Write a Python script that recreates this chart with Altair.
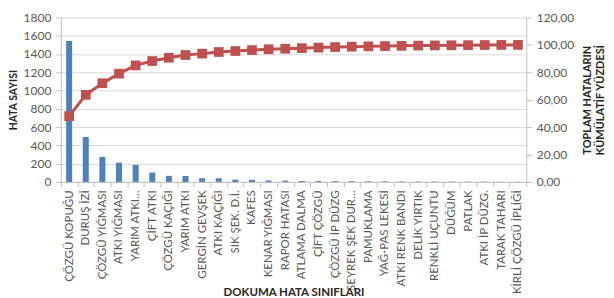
import altair as alt
import pandas as pd

categories = [
    "ÇÖZGÜ KOPUĞU", "DURUŞ İZİ", "ÇÖZGÜ YIĞMASI", "ATKI YIĞMASI", "YARIM ATKI…",
    "ÇİFT ATKI", "ÇÖZGÜ KAÇIĞI", "YARIM ATKI", "GERGİN GEVŞEK", "ATKI KAÇIĞI",
    "SIK ŞEK. D.İ.", "KAFES", "KENAR YIĞMASI", "RAPOR HATASI", "ATLAMA DALMA",
    "ÇİFT ÇÖZGÜ", "ÇÖZGÜ İP DÜZG", "SEYREK ŞEK DUR…", "PAMUKLAMA", "YAĞ-PAS LEKESİ",
    "ATKI RENK BANDI", "DELİK YIRTIK", "RENKLİ UÇUNTU", "DÜĞÜM", "PATLAK",
    "ATKI İP DÜZG.", "TARAK TAHARI", "KİRLİ ÇÖZGÜ İPLİĞİ",
]
counts = [1541, 492, 273, 211, 186, 102, 66, 66, 40, 40, 25, 22, 16, 14, 10,
          10, 8, 8, 7, 6, 5, 5, 4, 4, 3, 3, 2, 2]
cumulative = [48.0, 63.5, 72.0, 79.0, 85.0, 88.2, 90.6, 92.6, 93.6, 94.8, 95.5,
              96.2, 96.8, 97.2, 97.6, 98.0, 98.4, 98.7, 98.9, 99.1, 99.3, 99.45,
              99.6, 99.7, 99.8, 99.9, 99.95, 100.0]
left_ticks = [0, 200, 400, 600, 800, 1000, 1200, 1400, 1600, 1800]
right_ticks = [0, 20, 40, 60, 80, 100, 120]

df = pd.DataFrame({"kategori": categories, "sayi": counts, "kum": cumulative})

FONT = "Lato"
LABEL_COLOR = "#595959"
AXIS_COLOR = "#BFBFBF"

x_enc = alt.X(
    "kategori:N",
    sort=categories,
    scale=alt.Scale(paddingInner=0, paddingOuter=0),
    axis=alt.Axis(
        title="DOKUMA HATA SINIFLARI",
        titleY=105,
        titleBaseline="top",
        labelAngle=270,
        tickBand="extent",
        tickSize=5,
        labelPadding=3,
        labelFontSize=11.5,
        labelColor=LABEL_COLOR,
        domainColor=AXIS_COLOR,
        tickColor=AXIS_COLOR,
        titleFontSize=11.5,
        titleFontWeight="bold",
        titleColor="#262626",
        labelOverlap=False,
    ),
)

bars = alt.Chart(df).mark_bar(color="#4F81BD", size=6).encode(
    x=x_enc,
    y=alt.Y(
        "sayi:Q",
        scale=alt.Scale(domain=[0, 1800]),
        axis=alt.Axis(
            values=left_ticks,
            format="d",
            title="HATA SAYISI",
            titleFontSize=10.5,
            titleFontWeight="bold",
            titleColor="#262626",
            titlePadding=5,
            labelFontSize=12,
            labelColor=LABEL_COLOR,
            tickSize=5,
            labelPadding=5,
            domainColor=AXIS_COLOR,
            tickColor=AXIS_COLOR,
            grid=True,
            gridColor="#D9D9D9",
        ),
    ),
)

line = alt.Chart(df).mark_line(
    color="#C0504D",
    strokeWidth=3,
    point=alt.OverlayMarkDef(shape="square", size=95, color="#C0504D", filled=True),
).encode(
    x=x_enc,
    y=alt.Y(
        "kum:Q",
        scale=alt.Scale(domain=[0, 120]),
        axis=alt.Axis(
            orient="right",
            values=right_ticks,
            labelExpr="replace(format(datum.value, '.2f'), '.', ',')",
            title=["TOPLAM HATALARIN", "KÜMÜLATİF YÜZDESİ"],
            titleAngle=270,
            titleFontSize=11,
            titleFontWeight="bold",
            titleColor="#262626",
            titlePadding=6,
            labelFontSize=12,
            labelColor=LABEL_COLOR,
            tickSize=5,
            labelPadding=5,
            domainColor=AXIS_COLOR,
            tickColor=AXIS_COLOR,
            grid=False,
        ),
    ),
)

chart = (
    alt.layer(bars, line)
    .resolve_scale(y="independent")
    .properties(
        width=467,
        height=165,
        padding={"left": 0, "top": 3, "right": 0, "bottom": 0},
    )
    .configure(font=FONT)
    .configure_view(stroke=None)
)

chart.save("out.html", embed_options={"renderer": "svg", "actions": False})
